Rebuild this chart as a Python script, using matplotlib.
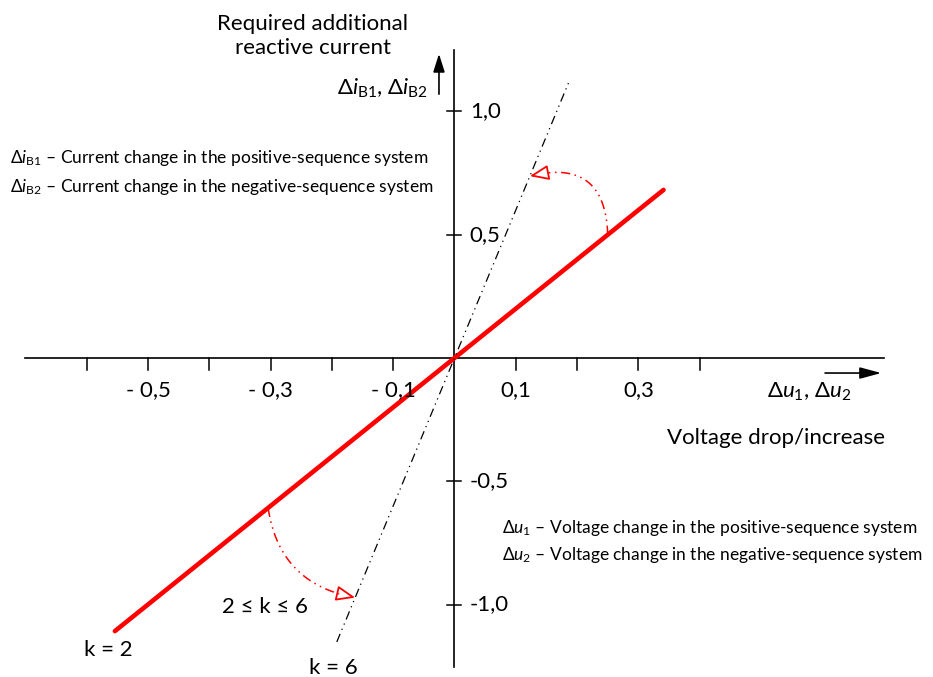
import numpy as np
import matplotlib.pyplot as plt
from matplotlib.patches import FancyArrowPatch

plt.rcParams['font.family'] = ['Lato', 'DejaVu Sans']
plt.rcParams['mathtext.fontset'] = 'custom'
plt.rcParams['mathtext.rm'] = 'Lato'
plt.rcParams['mathtext.it'] = 'Lato:italic'

# Kennlinien: delta_i = k * delta_u
k_werte = [2, 6]
u_bereich = [[-0.554, 0.341], [-0.192, 0.188]]

# Achsenteilung
x_ticks = [-0.6, -0.5, -0.4, -0.3, -0.2, -0.1, 0.1, 0.2, 0.3, 0.4]
x_beschriftet = [-0.5, -0.3, -0.1, 0.1, 0.3]
x_labels = ['- 0,5', '- 0,3', '- 0,1', '0,1', '0,3']
y_ticks = [1.0, 0.5, -0.5, -1.0]
y_labels = ['1,0', '0,5', '-0,5', '-1,0']

# Bogenpfeile 2 <= k <= 6: Start auf k=2, Ende auf k=6
bogen_start_u = [0.250, -0.304]
bogen_end_u = [0.123, -0.162]
bogen_rad = [0.62, 0.36]

fs = 16
fs_klein = 12.5

fig = plt.figure(figsize=(9.33, 6.77), dpi=100)
ax = fig.add_axes([0, 0, 1, 1])
ax.set_xlim(-0.7414, 0.7806)
ax.set_ylim(-1.2941, 1.4523)
ax.axis('off')

# Achsen
ax.plot([-0.7007, 0.7007], [0, 0], color='black', lw=1.2)
ax.plot([0, 0], [-1.254, 1.25], color='black', lw=1.2)
for xt in x_ticks:
    ax.plot([xt, xt], [0, -0.049], color='black', lw=1.1)
for yt in y_ticks:
    ax.plot([-0.0114, 0.0114], [yt, yt], color='black', lw=1.1)
for xt, lab in zip(x_beschriftet, x_labels):
    ax.text(xt, -0.13, lab, ha='center', va='center', fontsize=fs)
for yt, lab in zip(y_ticks, y_labels):
    ax.text(0.025, yt, lab, ha='left', va='center', fontsize=fs)

# Richtungspfeile an den Achsen
ax.add_patch(FancyArrowPatch((-0.0253, 1.059), (-0.0253, 1.245),
                             arrowstyle='-|>,head_length=11,head_width=3.5',
                             mutation_scale=1, color='black', lw=1.2))
ax.add_patch(FancyArrowPatch((0.600, -0.061), (0.7007, -0.061),
                             arrowstyle='-|>,head_length=13,head_width=3.5',
                             mutation_scale=1, color='black', lw=1.2))

# Kennlinien
ax.plot(u_bereich[0], [k_werte[0] * u for u in u_bereich[0]], color='#ff0000',
        lw=3.3, solid_capstyle='round')
ax.plot(u_bereich[1], [k_werte[1] * u for u in u_bereich[1]], color='black',
        lw=0.9, linestyle=(0, (7, 3.5, 1, 3.5, 1, 3.5)))


def bogen(p1, p2, rad):
    t = ax.transData
    a = t.transform(p1)
    b = t.transform(p2)
    d = b - a
    c = (a + b) / 2 + rad * np.array([d[1], -d[0]])
    s = np.linspace(0, 1, 200)[:, None]
    pts = (1 - s) ** 2 * a + 2 * (1 - s) * s * c + s ** 2 * b
    abst = np.hypot(*(pts - b).T)
    idx = np.where(abst > 16)[0][-1]
    kurve = t.inverted().transform(pts[:idx + 1])
    ax.plot(kurve[:, 0], kurve[:, 1], color='#ff0000', lw=1.1,
            linestyle=(0, (6, 3, 1, 3, 1, 3)))
    basis = t.inverted().transform(pts[idx])
    ax.add_patch(FancyArrowPatch(basis, p2,
                                 arrowstyle='-|>,head_length=11.5,head_width=4.6',
                                 mutation_scale=1, fc='white', ec='#ff0000',
                                 lw=1.3, shrinkA=0, shrinkB=0))


for u1, u2, r in zip(bogen_start_u, bogen_end_u, bogen_rad):
    bogen((u1, k_werte[0] * u1), (u2, k_werte[1] * u2), r)

# Beschriftungen
ax.text(-0.231, 1.306, 'Required additional\nreactive current', ha='center',
        va='center', fontsize=fs, linespacing=1.3)
ax.text(-0.043, 1.095, r'Δ$\mathit{i}_{\mathrm{B1}}$, Δ$\mathit{i}_{\mathrm{B2}}$',
        ha='right', va='center', fontsize=fs)
ax.text(-0.725, 0.811, r'Δ$\mathit{i}_{\mathrm{B1}}$ – Current change in the positive-sequence system',
        ha='left', va='center', fontsize=fs_klein)
ax.text(-0.725, 0.694, r'Δ$\mathit{i}_{\mathrm{B2}}$ – Current change in the negative-sequence system',
        ha='left', va='center', fontsize=fs_klein)
ax.text(0.578, -0.138, r'Δ$\mathit{u}_{1}$, Δ$\mathit{u}_{2}$', ha='center',
        va='center', fontsize=fs)
ax.text(0.702, -0.325, 'Voltage drop/increase', ha='right', va='center', fontsize=fs)
ax.text(0.0775, -0.690, r'Δ$\mathit{u}_{1}$ – Voltage change in the positive-sequence system',
        ha='left', va='center', fontsize=fs_klein)
ax.text(0.0775, -0.799, r'Δ$\mathit{u}_{2}$ – Voltage change in the negative-sequence system',
        ha='left', va='center', fontsize=fs_klein)
ax.text(-0.309, -1.010, '2 ≤ k ≤ 6', ha='center', va='center', fontsize=fs)
ax.text(-0.564, -1.185, 'k = 2', ha='center', va='center', fontsize=fs)
ax.text(-0.198, -1.258, 'k = 6', ha='center', va='center', fontsize=fs)

fig.savefig('out.png', dpi=100)
